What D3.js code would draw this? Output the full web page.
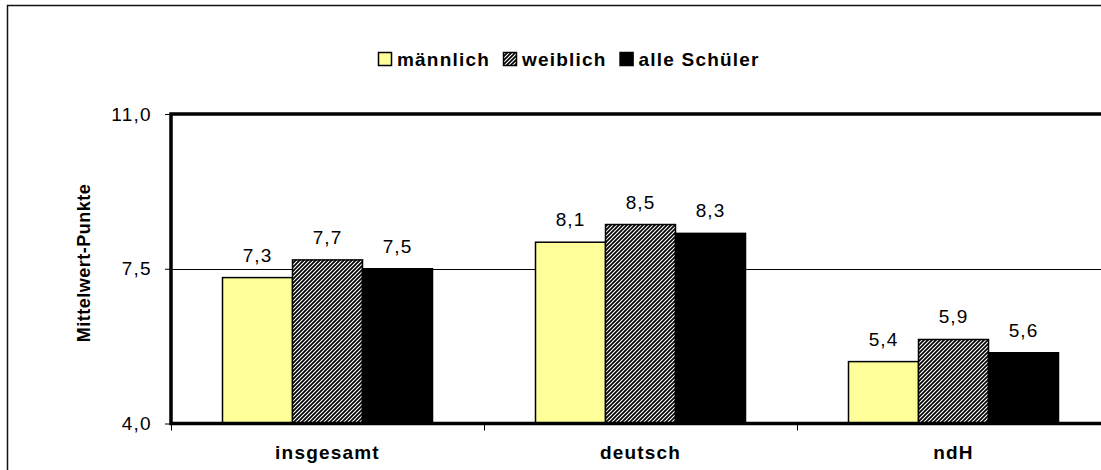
<!DOCTYPE html>
<html>
<head>
<meta charset="utf-8">
<script src="https://cdn.jsdelivr.net/npm/d3@7"></script>
<style>
  body { margin: 0; background: #fff; }
  svg { display: block; font-family: Arial, "Liberation Sans", sans-serif; }
</style>
</head>
<body>
<div id="chart"></div>
<script>
// Data
let categories = ["insgesamt", "deutsch", "ndH"];
let series = ["männlich", "weiblich", "alle Schüler"];
let maleValues = [7.3, 8.1, 5.4];
let femaleValues = [7.7, 8.5, 5.9];
let allValues = [7.5, 8.3, 5.6];
let yTicks = [4.0, 7.5, 11.0];

function BuildGraph(){
  let chart_width = 1101;
  let chart_height = 470;
  let plot_left = 171, plot_right = 1110, plot_top = 114, plot_bottom = 423.5;

  let svg = d3.select('#chart')
    .append('svg')
    .attr('width', chart_width)
    .attr('height', chart_height);

  // hatch pattern for "weiblich"
  let defs = svg.append('defs');
  defs.append('pattern')
    .attr('id', 'hatch')
    .attr('patternUnits', 'userSpaceOnUse')
    .attr('width', 4)
    .attr('height', 4)
    .call(p => {
      p.append('rect').attr('width', 4).attr('height', 4).attr('fill', '#fff');
      p.append('path')
        .attr('d', 'M-1,1 l2,-2 M0,4 l4,-4 M3,5 l2,-2')
        .attr('stroke', '#000')
        .attr('stroke-width', 1.7);
    });

  let fills = ["#FFFF99", "url(#hatch)", "#000"];
  let valuesBySeries = [maleValues, femaleValues, allValues];

  // outer chart border
  svg.append('rect')
    .attr('x', 7.5).attr('y', 5.5)
    .attr('width', 1200).attr('height', 600)
    .attr('fill', 'none')
    .attr('stroke', '#111')
    .attr('stroke-width', 1.5);

  // Scales
  let x0 = d3.scaleBand()
    .domain(categories)
    .range([plot_left, plot_right]);
  let x1 = d3.scaleBand()
    .domain(series)
    .range([51.5, 51.5 + 210]);
  let y = d3.scaleLinear()
    .domain([4, 11])
    .range([plot_bottom, plot_top]);

  // gridline at 7.5
  svg.append('line')
    .attr('x1', plot_left).attr('x2', plot_right)
    .attr('y1', Math.round(y(7.5)) + 0.5).attr('y2', Math.round(y(7.5)) + 0.5)
    .attr('stroke', '#000')
    .attr('stroke-width', 1);

  // Bars
  series.forEach((s, i) => {
    svg.append('g')
      .selectAll('rect')
      .data(valuesBySeries[i])
      .enter()
      .append('rect')
      .attr('x', (d, j) => x0(categories[j]) + x1(s))
      .attr('y', d => y(d))
      .attr('width', x1.bandwidth())
      .attr('height', d => plot_bottom - y(d))
      .attr('fill', fills[i])
      .attr('stroke', '#000')
      .attr('stroke-width', 1.5);

    svg.append('g')
      .selectAll('text')
      .data(valuesBySeries[i])
      .enter()
      .append('text')
      .attr('x', (d, j) => x0(categories[j]) + x1(s) + x1.bandwidth() / 2)
      .attr('y', d => y(d) - 16)
      .attr('text-anchor', 'middle')
      .style('font-size', '19px')
      .style('letter-spacing', '1px')
      .text(d => d.toFixed(1).replace('.', ','));
  });

  // plot area frame (left, top, bottom)
  svg.append('path')
    .attr('d', 'M' + (plot_right + 10) + ',' + plot_top + 'H' + plot_left + 'V' + plot_bottom + 'H' + (plot_right + 10))
    .attr('fill', 'none')
    .attr('stroke', '#000')
    .attr('stroke-width', 3.5);

  // Y axis
  let y_axis = d3.axisLeft(y)
    .tickValues(yTicks)
    .tickSize(6)
    .tickPadding(13)
    .tickFormat(d => d.toFixed(1).replace('.', ','));
  let yg = svg.append('g')
    .attr('transform', 'translate(' + plot_left + ',0)')
    .call(y_axis);
  yg.select('.domain').remove();
  yg.selectAll('text')
    .style('font-size', '19px')
    .style('letter-spacing', '1.3px')
    .style('font-family', 'Arial, "Liberation Sans", sans-serif')
    .attr('fill', '#000');
  yg.selectAll('line').attr('stroke', '#000');

  // X axis ticks (category boundaries)
  let xTickPositions = categories.map(c => x0(c));
  svg.append('g')
    .selectAll('line')
    .data(xTickPositions)
    .enter()
    .append('line')
    .attr('x1', d => d + 0.5).attr('x2', d => d + 0.5)
    .attr('y1', plot_bottom).attr('y2', plot_bottom + 7)
    .attr('stroke', '#000')
    .attr('stroke-width', 1);

  svg.append('g')
    .selectAll('text')
    .data(categories)
    .enter()
    .append('text')
    .attr('x', d => x0(d) + x0.bandwidth() / 2)
    .attr('y', 459)
    .attr('text-anchor', 'middle')
    .style('font-size', '19px')
    .style('font-weight', 'bold')
    .style('letter-spacing', '1.2px')
    .text(d => d);

  // Y axis title
  svg.append('text')
    .attr('transform', 'translate(90,263)rotate(-90)')
    .attr('text-anchor', 'middle')
    .style('font-size', '18px')
    .style('font-weight', 'bold')
    .style('letter-spacing', '0.5px')
    .text('Mittelwert-Punkte');

  // Legend
  let legend = svg.append('g').attr('id', 'legend');
  let lx = 378;
  series.forEach((s, i) => {
    legend.append('rect')
      .attr('x', lx + 0.5).attr('y', 52.5)
      .attr('width', 13).attr('height', 13)
      .attr('fill', fills[i])
      .attr('stroke', '#000')
      .attr('stroke-width', 1.5);
    let t = legend.append('text')
      .attr('x', lx + 19)
      .attr('y', 66)
      .style('font-size', '19px')
      .style('font-weight', 'bold')
      .style('letter-spacing', '1.2px')
      .text(s);
    lx = lx + 19 + t.node().getComputedTextLength() + 13;
  });
}

document.addEventListener('DOMContentLoaded', function(){
  BuildGraph();
});
</script>
</body>
</html>
